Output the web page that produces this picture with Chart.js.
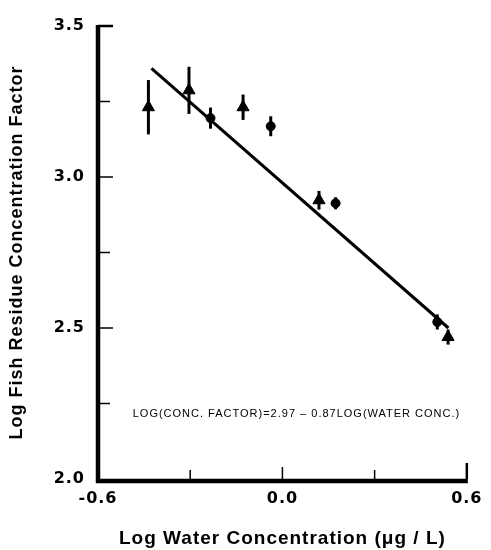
<!DOCTYPE html>
<html>
<head>
<meta charset="utf-8">
<script src="https://cdn.jsdelivr.net/npm/chart.js@4/dist/chart.umd.min.js"></script>
<style>
html,body{margin:0;padding:0;background:#fff;}
#wrap{width:491px;height:550px;position:relative;}
</style>
</head>
<body>
<div id="wrap"><canvas id="c" width="491" height="550"></canvas></div>
<script>
// ---- data ----
const triX = [-0.436, -0.304, -0.128, 0.119, 0.539];
const triY = [3.231, 3.287, 3.231, 2.923, 2.470];
const triErr = [0.090, 0.078, 0.042, 0.031, 0.025];
const cirX = [-0.234, -0.038, 0.173, 0.504];
const cirY = [3.195, 3.168, 2.913, 2.520];
const cirErr = [0.035, 0.033, 0.020, 0.025];
const lineX = [-0.426, 0.540];
const lineY = [3.360, 2.500];
const xTicks = [-0.6, 0.0, 0.6];
const xMinor = [-0.3, 0.3];
const yTicks = [2.0, 2.5, 3.0, 3.5];
const yMinor = [2.25, 2.75, 3.25];
const xTitle = 'Log Water Concentration (\u03bcg / L)';
const yTitle = 'Log Fish Residue Concentration Factor';
const equation = 'LOG(CONC. FACTOR)=2.97 \u2013 0.87LOG(WATER CONC.)';
const eqPos = [-0.487, 2.215];

const tickFont = {family: '"DejaVu Sans", sans-serif', size: 16, weight: 'bold'};
const xTitleFont = {family: '"Liberation Sans", Arial, sans-serif', size: 19, weight: 'bold'};
const yTitleFont = {family: '"Liberation Sans", Arial, sans-serif', size: 18, weight: 'bold'};

const fmt = v => {
  const n = Math.abs(v) < 1e-9 ? 0 : Number(v);
  return n.toFixed(1);
};

const customDraw = {
  id: 'customDraw',
  beforeDraw(chart) {
    if ('letterSpacing' in chart.ctx) chart.ctx.letterSpacing = '1px';
  },
  beforeDatasetsDraw(chart) {
    const ctx = chart.ctx, xs = chart.scales.x, ys = chart.scales.y;
    ctx.save();
    ctx.strokeStyle = '#000';
    ctx.lineWidth = 3;
    const bars = (X, Y, E) => {
      for (let i = 0; i < X.length; i++) {
        const px = xs.getPixelForValue(X[i]);
        ctx.beginPath();
        ctx.moveTo(px, ys.getPixelForValue(Y[i] + E[i]));
        ctx.lineTo(px, ys.getPixelForValue(Y[i] - E[i]));
        ctx.stroke();
      }
    };
    bars(triX, triY, triErr);
    bars(cirX, cirY, cirErr);
    ctx.restore();
  },
  afterDraw(chart) {
    const ctx = chart.ctx, xs = chart.scales.x, ys = chart.scales.y;
    const L = xs.getPixelForValue(-0.6), R = xs.getPixelForValue(0.6);
    const T = ys.getPixelForValue(3.5), B = ys.getPixelForValue(2.0);
    ctx.save();
    ctx.strokeStyle = '#000';
    ctx.lineCap = 'butt';
    ctx.lineWidth = 4.5;
    ctx.beginPath();
    ctx.moveTo(L, T - 1);
    ctx.lineTo(L, B + 2);
    ctx.lineTo(R + 1, B + 2);
    ctx.stroke();
    yTicks.concat(yMinor).forEach(v => {
      if (v === 2.0) return;
      const py = ys.getPixelForValue(v);
      ctx.lineWidth = v === 3.5 ? 2.5 : 1.5;
      ctx.beginPath();
      ctx.moveTo(L, py);
      ctx.lineTo(L + (yMinor.includes(v) ? 12 : 15), py);
      ctx.stroke();
    });
    xTicks.concat(xMinor).forEach(v => {
      if (v === -0.6) return;
      const px = xs.getPixelForValue(v);
      ctx.lineWidth = v === 0.6 ? 2.5 : 1.5;
      const len = v === 0.6 ? 16 : (v === 0 ? 12 : 9);
      ctx.beginPath();
      ctx.moveTo(px, B);
      ctx.lineTo(px, B - len);
      ctx.stroke();
    });
    ctx.fillStyle = '#000';
    ctx.font = '11px "Liberation Sans", Arial, sans-serif';
    ctx.textBaseline = 'middle';
    ctx.textAlign = 'left';
    ctx.fillText(equation, xs.getPixelForValue(eqPos[0]), ys.getPixelForValue(eqPos[1]));
    ctx.restore();
  }
};

new Chart(document.getElementById('c'), {
  type: 'scatter',
  data: {
    datasets: [
      {
        label: 'triangles',
        data: triX.map((x, i) => ({x, y: triY[i]})),
        pointStyle: 'triangle',
        pointRadius: 7,
        backgroundColor: '#000',
        borderColor: '#000',
        borderWidth: 1
      },
      {
        label: 'circles',
        data: cirX.map((x, i) => ({x, y: cirY[i]})),
        pointStyle: 'circle',
        pointRadius: 4.5,
        backgroundColor: '#000',
        borderColor: '#000',
        borderWidth: 1
      },
      {
        label: 'fit',
        type: 'line',
        data: lineX.map((x, i) => ({x, y: lineY[i]})),
        showLine: true,
        pointRadius: 0,
        borderColor: '#000',
        borderWidth: 3,
        fill: false
      }
    ]
  },
  options: {
    responsive: false,
    animation: false,
    layout: {padding: {left: 0, right: 19, top: 26, bottom: 0}},
    plugins: {legend: {display: false}, tooltip: {enabled: false}},
    scales: {
      x: {
        type: 'linear', min: -0.6, max: 0.6,
        afterBuildTicks: s => { s.ticks = xTicks.map(v => ({value: v})); },
        afterFit: s => { s.height = 71; },
        grid: {display: false, drawTicks: false},
        border: {display: false},
        ticks: {
          color: '#000', font: tickFont, padding: 10, maxRotation: 0, autoSkip: false,
          callback: v => fmt(v)
        },
        title: {display: true, text: xTitle, color: '#000', font: xTitleFont, padding: {top: 0, bottom: 0}}
      },
      y: {
        type: 'linear', min: 2.0, max: 3.5,
        afterBuildTicks: s => { s.ticks = yTicks.map(v => ({value: v})); },
        afterFit: s => { s.width = 98; },
        grid: {display: false, drawTicks: false},
        border: {display: false},
        ticks: {
          color: '#000', font: tickFont, padding: 13, autoSkip: false,
          callback: v => fmt(v)
        },
        title: {display: true, text: yTitle, color: '#000', font: yTitleFont, padding: {top: 6, bottom: 0}}
      }
    }
  },
  plugins: [customDraw]
});
</script>
</body>
</html>
